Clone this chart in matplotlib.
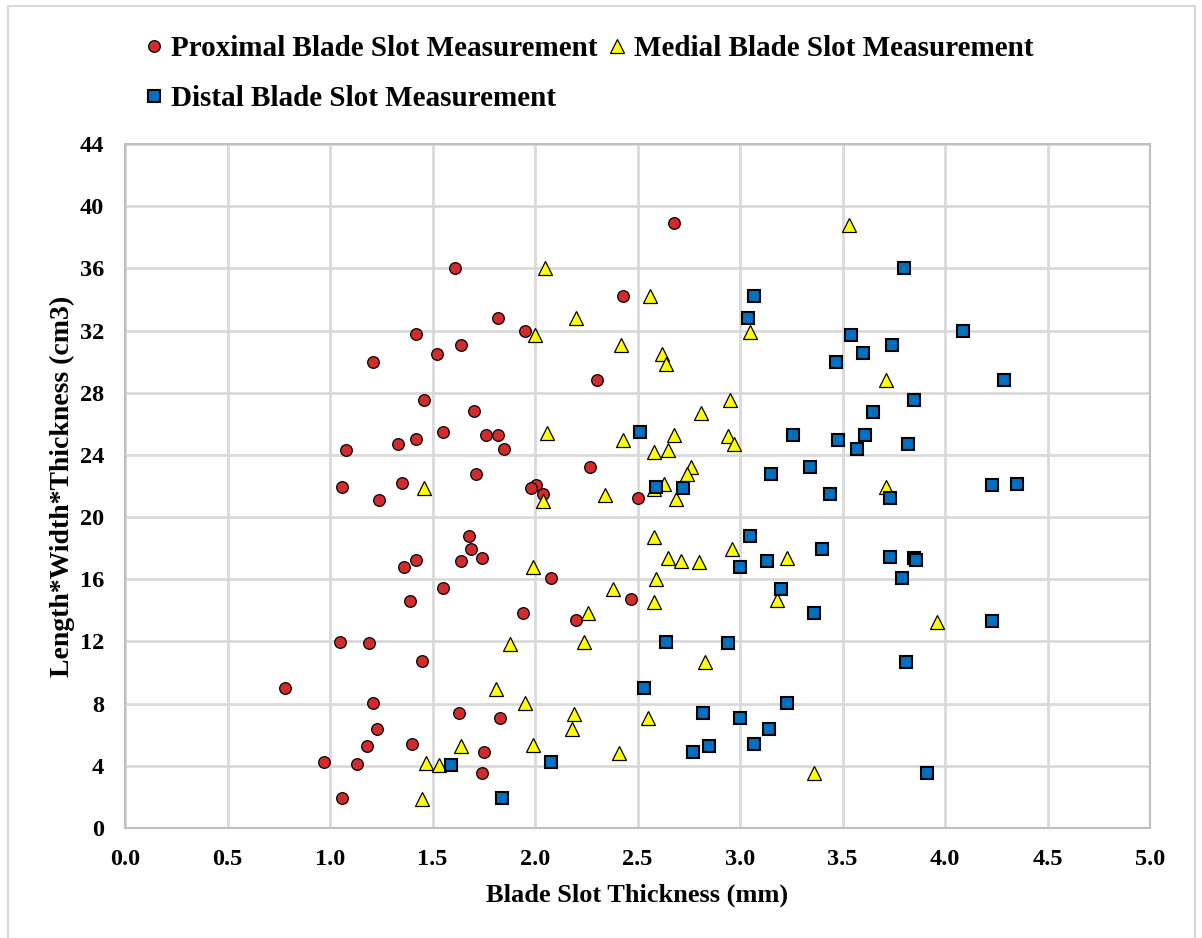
import matplotlib
matplotlib.use('Agg')
import matplotlib.pyplot as plt
from matplotlib.patches import Rectangle

# proximal blade slot (circles)
prox_x = [2.68, 1.61, 2.43, 1.82, 1.95, 1.42, 1.64, 1.52, 1.21, 2.30,
          1.46, 1.70, 1.55, 1.76, 1.82, 1.42, 1.33, 1.85, 1.08, 2.27,
          1.71, 1.35, 2.005, 1.06, 1.98, 2.04, 2.50, 1.24, 1.68, 1.69,
          1.74, 1.42, 1.64, 1.36, 2.08, 1.55, 2.47, 1.39, 1.94, 2.20,
          1.05, 1.19, 1.45, 0.78, 1.21, 1.63, 1.83, 1.23, 1.40, 1.18,
          1.75, 0.97, 1.13, 1.74, 1.06]
prox_y = [38.9, 36.05, 34.25, 32.8, 31.95, 31.75, 31.1, 30.5, 29.95, 28.85,
          27.5, 26.8, 25.5, 25.3, 25.3, 25.0, 24.7, 24.4, 24.3, 23.2,
          22.8, 22.2, 22.05, 21.95, 21.9, 21.5, 21.25, 21.1, 18.8, 17.95,
          17.4, 17.25, 17.15, 16.8, 16.05, 15.45, 14.75, 14.6, 13.85, 13.35,
          11.95, 11.9, 10.75, 9.0, 8.05, 7.4, 7.05, 6.4, 5.4, 5.3,
          4.9, 4.25, 4.1, 3.55, 1.95]

# medial blade slot (triangles)
med_x = [3.53, 2.05, 2.56, 2.20, 3.05, 2.00, 2.42, 2.62, 2.64, 3.71,
         2.95, 2.81, 2.06, 2.68, 2.94, 2.43, 2.97, 2.65, 2.58, 2.76,
         2.74, 2.63, 3.71, 1.46, 2.58, 2.34, 2.69, 2.04, 2.58, 2.96,
         2.65, 3.23, 2.71, 2.80, 1.99, 2.59, 2.38, 3.18, 2.58, 2.26,
         3.96, 1.88, 2.24, 2.83, 1.81, 1.95, 2.19, 2.55, 2.18, 1.64,
         1.99, 2.41, 1.47, 1.53, 3.36, 1.45]
med_y = [38.8, 36.0, 34.2, 32.8, 31.9, 31.7, 31.05, 30.5, 29.85, 28.8,
         27.5, 26.7, 25.4, 25.25, 25.2, 24.95, 24.7, 24.3, 24.2, 23.2,
         22.75, 22.1, 21.95, 21.9, 21.8, 21.45, 21.15, 21.05, 18.75, 17.95,
         17.35, 17.35, 17.2, 17.1, 16.8, 16.0, 15.35, 14.65, 14.55, 13.85,
         13.25, 11.85, 11.95, 10.7, 8.95, 8.05, 7.35, 7.05, 6.35, 5.25,
         5.35, 4.85, 4.2, 4.05, 3.55, 1.85]

# distal blade slot (squares)
dist_x = [3.80, 3.07, 3.04, 4.09, 3.54, 3.74, 3.60, 3.47, 4.29, 3.85,
          3.65, 2.51, 3.26, 3.61, 3.48, 3.82, 3.57, 3.34, 3.15, 4.35,
          4.23, 2.59, 2.72, 3.44, 3.73, 3.05, 3.40, 3.73, 3.85, 3.86,
          3.13, 3.00, 3.79, 3.20, 3.36, 4.23, 2.64, 2.94, 3.81, 2.53,
          3.23, 2.82, 3.00, 3.14, 3.07, 2.85, 2.77, 2.08, 1.59, 3.91,
          1.84]
dist_y = [36.05, 34.25, 32.8, 31.95, 31.7, 31.1, 30.55, 29.95, 28.85, 27.5,
          26.75, 25.5, 25.3, 25.3, 24.95, 24.7, 24.35, 23.25, 22.8, 22.15,
          22.05, 21.95, 21.9, 21.5, 21.25, 18.8, 17.95, 17.45, 17.4, 17.25,
          17.15, 16.8, 16.05, 15.4, 13.85, 13.3, 11.95, 11.9, 10.7, 9.0,
          8.05, 7.4, 7.05, 6.4, 5.4, 5.3, 4.9, 4.25, 4.05, 3.55,
          1.95]

x_ticks = [0.0, 0.5, 1.0, 1.5, 2.0, 2.5, 3.0, 3.5, 4.0, 4.5, 5.0]
y_ticks = [0, 4, 8, 12, 16, 20, 24, 28, 32, 36, 40, 44]

plt.rcParams['font.family'] = ['Liberation Serif', 'DejaVu Serif']
plt.rcParams['font.weight'] = 'bold'

fig = plt.figure(figsize=(12.02, 9.38), dpi=100)
fig.patches.append(Rectangle((8 / 1202, -0.01), 1187 / 1202, 1 - 6 / 938 + 0.01,
                             transform=fig.transFigure, fill=False,
                             edgecolor='#D9D9D9', linewidth=1.5, zorder=0))

ax = fig.add_axes([125 / 1202, 1 - 828 / 938, 1025 / 1202, 684 / 938])

p1, = ax.plot(prox_x, prox_y, 'o', ms=8.4, mfc='#D22B2B', mec='black', mew=0.9,
              ls='none', label='Proximal Blade Slot Measurement', zorder=3)
p2, = ax.plot(med_x, med_y, '^', ms=10, mfc='#FFFF00', mec='black', mew=0.9,
              ls='none', label='Medial Blade Slot Measurement', zorder=3)
p3, = ax.plot(dist_x, dist_y, 's', ms=8.2, mfc='#0070C0', mec='black', mew=1.5,
              ls='none', label='Distal Blade Slot Measurement', zorder=3)

ax.set_xlim(0, 5)
ax.set_ylim(0, 44)
ax.set_xticks(x_ticks)
ax.set_yticks(y_ticks)
ax.set_xticklabels([f'{v:.1f}' for v in x_ticks])
ax.tick_params(length=0, labelsize=17.5)
ax.tick_params(axis='x', pad=15)
ax.tick_params(axis='y', pad=15)
ax.grid(True, color='#D9D9D9', linewidth=2)
ax.set_axisbelow(True)
for s in ax.spines.values():
    s.set_color('#BFBFBF')
    s.set_linewidth(1.5)

ax.set_xlabel('Blade Slot Thickness (mm)', fontsize=19, fontweight='bold', labelpad=10)
ax.set_ylabel('Length*Width*Thickness (cm3)', fontsize=20, fontweight='bold', labelpad=3)

fig.legend(handles=[p1, p3, p2], loc='upper left', bbox_to_anchor=(145 / 1202, 1 - 35 / 938),
           ncol=2, frameon=False, fontsize=21, handlelength=0.6, handletextpad=0.3,
           columnspacing=0.35, labelspacing=0.8, borderpad=0, borderaxespad=0)

fig.savefig('out.png', dpi=100)
